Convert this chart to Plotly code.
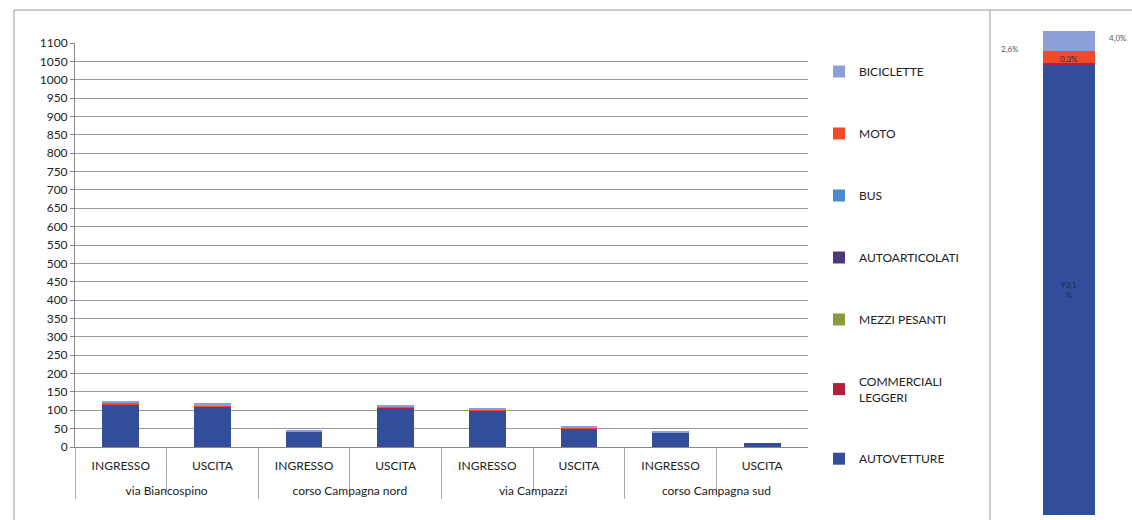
import plotly.graph_objects as go

# ---- data ----
locations = ["via Biancospino", "via Biancospino",
             "corso Campagna nord", "corso Campagna nord",
             "via Campazzi", "via Campazzi",
             "corso Campagna sud", "corso Campagna sud"]
directions = ["INGRESSO", "USCITA"] * 4

autovetture = [116, 111, 41, 106, 100, 51, 39, 12]
commerciali_leggeri = [1, 0, 0, 1, 0, 0, 0, 0]
mezzi_pesanti = [0, 0, 0, 0, 0, 0, 0, 0]
autoarticolati = [0, 0, 0, 0, 0, 0, 0, 0]
bus = [0, 0, 0, 0, 0, 0, 0, 0]
moto = [3, 3, 1, 3, 3, 2, 1, 0]
biciclette = [5, 5, 2, 5, 4, 2, 2, 0]

series_names = ["AUTOVETTURE", "COMMERCIALI<br>LEGGERI", "MEZZI PESANTI",
                "AUTOARTICOLATI", "BUS", "MOTO", "BICICLETTE"]
series_values = [autovetture, commerciali_leggeri, mezzi_pesanti,
                 autoarticolati, bus, moto, biciclette]
series_colors = ["#324d9a", "#b3203c", "#8c9a3a", "#4b3a7a",
                 "#4a8ad0", "#ee4b26", "#8d9fd8"]

y_ticks = list(range(0, 1101, 50))

# ---- figure ----
fig = go.Figure()
FONT = "Lato, 'Open Sans', sans-serif"

n = len(series_names)
# display labels: push the group row lower (blank first line)
loc_display = ["<br>" + l for l in locations]

for i, (name, vals, col) in enumerate(zip(series_names, series_values, series_colors)):
    fig.add_trace(go.Bar(
        x=[loc_display, directions], y=vals, name=name,
        marker=dict(color=col, line=dict(width=0)),
        width=0.4, legendgroup=name, legendrank=n - i,
        xaxis="x", yaxis="y",
    ))

# right panel: 100% composition
totals = [sum(v) for v in series_values]
grand = sum(totals)
perc = [t / grand * 100 for t in totals]
for name, p, col in zip(series_names, perc, series_colors):
    fig.add_trace(go.Bar(
        x=["tot"], y=[p], name=name, marker=dict(color=col, line=dict(width=0)),
        width=1.0, showlegend=False, legendgroup=name,
        xaxis="x2", yaxis="y2",
    ))

def fmt(p):
    return f"{p:.1f}".replace(".", ",") + "%"

cum = []
c = 0
for p in perc:
    cum.append(c + p / 2)
    c += p

label_font = dict(family=FONT, size=8, color="#595959")
fig.add_annotation(x=0, y=cum[0], xref="x2", yref="y2",
                   text=fmt(perc[0]).replace("%", "<br>%"), showarrow=False,
                   font=dict(family=FONT, size=8, color="#1f2a55"))
fig.add_annotation(x=0, y=cum[1] + 1.0, xref="x2", yref="y2",
                   text=fmt(perc[1]), showarrow=False,
                   font=dict(family=FONT, size=8, color="#1f2a55"))
fig.add_annotation(x=-0.5, y=cum[5] + 1.6, xref="x2", yref="y2", xanchor="right",
                   text=fmt(perc[5]), showarrow=False, font=label_font, xshift=-22)
fig.add_annotation(x=0.5, y=cum[6] + 0.6, xref="x2", yref="y2", xanchor="left",
                   text=fmt(perc[6]), showarrow=False, font=label_font, xshift=12)

W, H = 1132, 520
fig.update_layout(
    width=W, height=H,
    margin=dict(l=0, r=0, t=0, b=0, autoexpand=False),
    paper_bgcolor="white", plot_bgcolor="white",
    barmode="stack", bargap=0.6,
    font=dict(family=FONT, size=12, color="#222222"),
    showlegend=True,
    legend=dict(x=819 / W, y=1 - 57 / H, xanchor="left", yanchor="top",
                traceorder="grouped", tracegroupgap=43,
                font=dict(family=FONT, size=12, color="#222222"),
                itemwidth=30, bgcolor="rgba(0,0,0,0)"),
    xaxis=dict(domain=[75 / W, 808 / W], type="multicategory",
               showline=True, linecolor="#888888", linewidth=1,
               ticks="outside", tickson="boundaries", ticklen=44,
               tickcolor="#aaaaaa", ticklabelstandoff=8,
               showdividers=True, dividercolor="#aaaaaa", dividerwidth=1,
               tickfont=dict(family=FONT, size=12, color="#222222"),
               showgrid=False, anchor="y"),
    yaxis=dict(domain=[1 - 447 / H, 1 - 43 / H], range=[0, 1100],
               tickvals=y_ticks, showgrid=True, gridcolor="#9a9a9a",
               gridwidth=1, showline=True, linecolor="#888888",
               ticks="outside", ticklen=4, tickcolor="#888888",
               tickfont=dict(family=FONT, size=12, color="#222222"),
               zeroline=False, anchor="x"),
    xaxis2=dict(domain=[1043 / W, 1095 / W], range=[-0.5, 0.5],
                visible=False, anchor="y2"),
    yaxis2=dict(domain=[1 - 515 / H, 1 - 31 / H], range=[0, 100],
                visible=False, anchor="x2"),
    shapes=[
        dict(type="line", xref="paper", yref="paper", x0=14 / W, x1=1.0,
             y0=1 - 10 / H, y1=1 - 10 / H, line=dict(color="#9a9a9a", width=1)),
        dict(type="line", xref="paper", yref="paper", x0=14 / W, x1=14 / W,
             y0=0, y1=1 - 10 / H, line=dict(color="#9a9a9a", width=1)),
        dict(type="line", xref="paper", yref="paper", x0=990 / W, x1=990 / W,
             y0=0, y1=1 - 10 / H, line=dict(color="#9a9a9a", width=1)),
    ],
)

fig.write_html("out.html", config={"displayModeBar": False},
               post_script="document.body.style.margin='0';")
